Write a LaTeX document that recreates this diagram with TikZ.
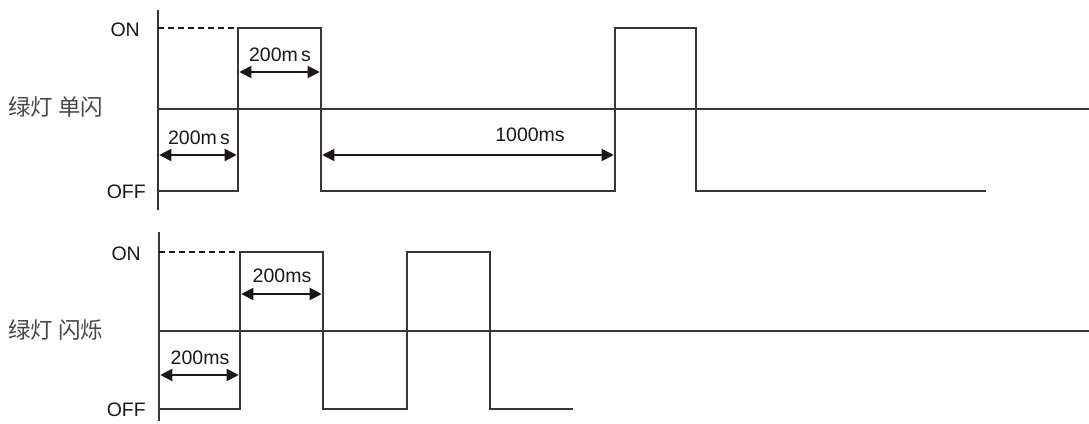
\documentclass[tikz,border=0pt]{standalone}
\usepackage{fontspec}
\setmainfont{Liberation Sans}
\newfontfamily\cjk{Noto Sans CJK SC}
\usetikzlibrary{arrows.meta}
\definecolor{wave}{RGB}{60,52,52}
\definecolor{arr}{RGB}{30,22,22}
\tikzset{
  x=1pt,y=-1pt,
  wavel/.style={draw=wave,line width=1.3pt,line join=miter},
  axisl/.style={draw=wave,line width=1.3pt},
  dashl/.style={draw=arr,line width=1.5pt,dash pattern=on 6pt off 4pt},
  dim/.style={draw=arr,line width=2pt,{Triangle[length=12pt,width=12pt]}-{Triangle[length=12pt,width=12pt]},shorten <=0.3pt,shorten >=0.3pt},
  lbl/.style={font=\fontsize{19.5}{21}\selectfont,text=arr,inner sep=0pt},
  cn/.style={font=\cjk\fontsize{22.5}{24}\selectfont,text=arr!80,inner sep=0pt},
}
\begin{document}
\begin{tikzpicture}
\useasboundingbox (0,0) rectangle (1089,423);
% ---------- top chart ----------
\coordinate (a1t) at (158,10);
\coordinate (a1b) at (158,210);
\draw[axisl] (a1t) -- (a1b);
\coordinate (m1s) at (158,109);
\coordinate (m1e) at (1089,109);
\draw[wavel] (m1s) -- (m1e);
\coordinate (t0) at (158,191);
\coordinate (t1) at (238,191);
\coordinate (t1h) at (238,28);
\coordinate (t2h) at (321,28);
\coordinate (t2) at (321,191);
\coordinate (t3) at (615,191);
\coordinate (t3h) at (615,28);
\coordinate (t4h) at (696,28);
\coordinate (t4) at (696,191);
\coordinate (t5) at (986,191);
\coordinate (d1) at (158,28);
\draw[wavel] (t0) -- (t1) -- (t1h) -- (t2h) -- (t2) -- (t3) -- (t3h) -- (t4h) -- (t4) -- (t5);
\draw[dashl] (d1) -- (t1h);
\node[lbl,anchor=east] (on1) at (140,30) {ON};
\node[lbl,anchor=east] (off1) at (146,192) {OFF};
\node[cn,anchor=west] (name1) at (8,107) {绿灯 单闪};
% dimension arrows
\coordinate (p1a) at (239,72); \coordinate (p1b) at (320,72);
\draw[dim] (p1a) -- (p1b);
\node[lbl] (l1) at (280,55) {200m\,s};
\coordinate (p2a) at (159,155); \coordinate (p2b) at (237,155);
\draw[dim] (p2a) -- (p2b);
\node[lbl] (l2) at (199,138) {200m\,s};
\coordinate (p3a) at (322,155); \coordinate (p3b) at (614,155);
\draw[dim] (p3a) -- (p3b);
\node[lbl] (l3) at (530,135) {1000ms};
% ---------- bottom chart ----------
\coordinate (a2t) at (159,232);
\coordinate (a2b) at (159,421);
\draw[axisl] (a2t) -- (a2b);
\coordinate (m2s) at (159,331);
\coordinate (m2e) at (1089,331);
\draw[wavel] (m2s) -- (m2e);
\coordinate (s0) at (159,409);
\coordinate (s1) at (240,409);
\coordinate (s1h) at (240,252);
\coordinate (s2h) at (323,252);
\coordinate (s2) at (323,409);
\coordinate (s3) at (407,409);
\coordinate (s3h) at (407,252);
\coordinate (s4h) at (490,252);
\coordinate (s4) at (490,409);
\coordinate (s5) at (573,409);
\coordinate (d2) at (159,252);
\draw[wavel] (s0) -- (s1) -- (s1h) -- (s2h) -- (s2) -- (s3) -- (s3h) -- (s4h) -- (s4) -- (s5);
\draw[dashl] (d2) -- (s1h);
\node[lbl,anchor=east] (on2) at (141,254) {ON};
\node[lbl,anchor=east] (off2) at (146,410) {OFF};
\node[cn,anchor=west] (name2) at (8,330) {绿灯 闪烁};
\coordinate (q1a) at (241,294); \coordinate (q1b) at (322,294);
\draw[dim] (q1a) -- (q1b);
\node[lbl] (k1) at (282,276) {200ms};
\coordinate (q2a) at (160,375); \coordinate (q2b) at (239,375);
\draw[dim] (q2a) -- (q2b);
\node[lbl] (k2) at (200,358) {200ms};
\end{tikzpicture}
\end{document}
